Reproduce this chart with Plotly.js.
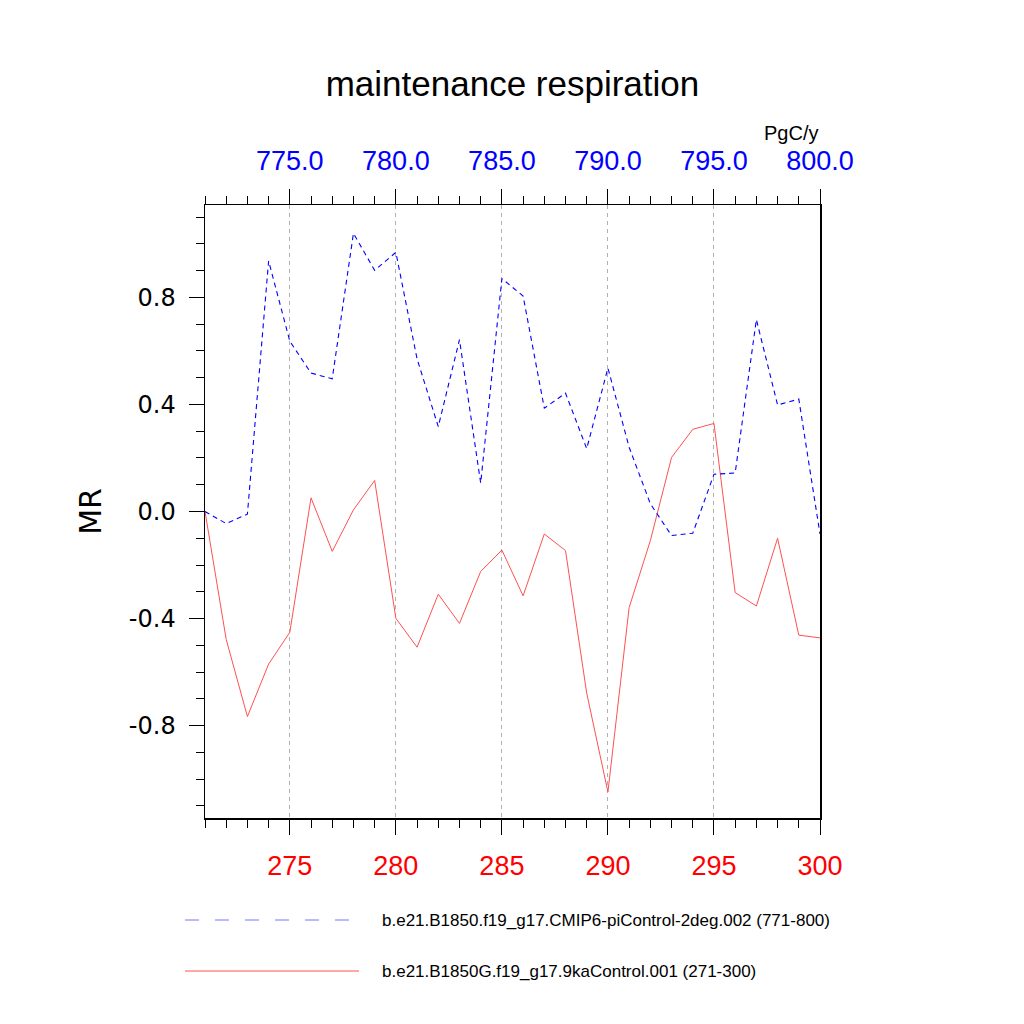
<!DOCTYPE html>
<html>
<head>
<meta charset="utf-8">
<script src="https://cdn.plot.ly/plotly-3.0.1.min.js"></script>
<style>html,body{margin:0;padding:0;background:#fff;}#chart{width:1024px;height:1024px;}</style>
</head>
<body>
<div id="chart"></div>
<script>
// ---- data ----
var yearsCtl = [271,272,273,274,275,276,277,278,279,280,281,282,283,284,285,286,287,288,289,290,291,292,293,294,295,296,297,298,299,300];
var yearsPi  = [771,772,773,774,775,776,777,778,779,780,781,782,783,784,785,786,787,788,789,790,791,792,793,794,795,796,797,798,799,800];
var mrPi  = [0.0, -0.045, -0.01, 0.936, 0.636, 0.517, 0.496, 1.039, 0.901, 0.968, 0.57, 0.317, 0.642, 0.106, 0.870, 0.805, 0.386, 0.442, 0.235, 0.536, 0.24, 0.029, -0.09, -0.081, 0.139, 0.144, 0.717, 0.398, 0.42, -0.084];
var mrCtl = [0.0, -0.478, -0.766, -0.57, -0.451, 0.051, -0.149, 0.006, 0.116, -0.399, -0.507, -0.309, -0.418, -0.224, -0.144, -0.315, -0.084, -0.146, -0.679, -1.048, -0.359, -0.109, 0.202, 0.307, 0.329, -0.303, -0.353, -0.1, -0.462, -0.472];
var namePi  = "b.e21.B1850.f19_g17.CMIP6-piControl-2deg.002 (771-800)";
var nameCtl = "b.e21.B1850G.f19_g17.9kaControl.001 (271-300)";
var yTickVals = [-0.8, -0.4, 0.0, 0.4, 0.8];
var yTickText = ["-0.8", "-0.4", "0.0", "0.4", "0.8"];
var titleText = "maintenance respiration";
var yTitle = "MR";
var unitsText = "PgC/y";

// ---- layout helpers (pixel -> paper) ----
var L = 205, R = 820, T = 205, B = 818;
function px(x){ return (x - L) / (R - L); }
function py(y){ return (B - y) / (B - T); }

var sans = "Liberation Sans, Arial, sans-serif";
var dv = "DejaVu Sans, sans-serif";

var traces = [
  { x: yearsPi, y: mrPi, xaxis: 'x2', yaxis: 'y', mode: 'lines', name: namePi,
    line: { color: '#0000ff', width: 1.1, dash: '5px,4px' }, hoverinfo: 'skip' },
  { x: yearsCtl, y: mrCtl, xaxis: 'x', yaxis: 'y', mode: 'lines', name: nameCtl,
    line: { color: '#ff5050', width: 1 }, hoverinfo: 'skip' }
];

var layout = {
  width: 1024, height: 1024,
  paper_bgcolor: '#fff', plot_bgcolor: '#fff',
  showlegend: false,
  margin: { l: L, r: 1024 - R, t: T, b: 1024 - B, pad: 0 },
  title: { text: titleText, font: { family: sans, size: 35, color: '#000' },
           x: 0.5, xref: 'paper', xanchor: 'center', y: 1 - 84/1024, yref: 'container', yanchor: 'middle' },
  xaxis: {
    range: [271, 300], tickmode: 'linear', tick0: 275, dtick: 5,
    ticks: 'outside', ticklen: 15, tickwidth: 1, tickcolor: '#000',
    tickfont: { family: sans, size: 27, color: '#ff0000' }, ticklabelstandoff: 8,
    showline: true, linecolor: '#000', linewidth: 1.5, zeroline: false,
    showgrid: true, gridcolor: '#b0b0b0', gridwidth: 1, griddash: '4px,4px',
    minor: { tickmode: 'linear', tick0: 271, dtick: 1, ticks: 'outside', ticklen: 8, tickcolor: '#000', tickwidth: 1, showgrid: false },
    automargin: false, fixedrange: true
  },
  xaxis2: {
    overlaying: 'x', side: 'top', anchor: 'y',
    range: [771, 800], tickmode: 'linear', tick0: 775, dtick: 5, tickformat: '.1f',
    ticks: 'outside', ticklen: 15, tickwidth: 1, tickcolor: '#000',
    tickfont: { family: sans, size: 27, color: '#0000ff' }, ticklabelstandoff: 8,
    showline: true, linecolor: '#000', linewidth: 1.5, zeroline: false, showgrid: false,
    minor: { tickmode: 'linear', tick0: 771, dtick: 1, ticks: 'outside', ticklen: 8, tickcolor: '#000', tickwidth: 1, showgrid: false },
    automargin: false, fixedrange: true
  },
  yaxis: {
    range: [-1.145, 1.145], tickmode: 'array', tickvals: yTickVals, ticktext: yTickText,
    ticks: 'outside', ticklen: 15, tickwidth: 1, tickcolor: '#000',
    tickfont: { family: dv, size: 24, color: '#000' }, ticklabelstandoff: 8,
    showline: true, mirror: true, linecolor: '#000', linewidth: 1.5, zeroline: false, showgrid: false,
    minor: { tickmode: 'linear', tick0: 0, dtick: 0.1, ticks: 'outside', ticklen: 8, tickcolor: '#000', tickwidth: 1, showgrid: false },
    title: { text: yTitle, font: { family: dv, size: 30, color: '#000' }, standoff: 18 },
    automargin: false, fixedrange: true
  },
  shapes: [
    { type: 'line', xref: 'paper', yref: 'paper', x0: px(185), x1: px(356), y0: py(920), y1: py(920),
      line: { color: '#7777ff', width: 1, dash: '14px,16px' } },
    { type: 'line', xref: 'paper', yref: 'paper', x0: px(185), x1: px(359), y0: py(971), y1: py(971),
      line: { color: '#ff5050', width: 1 } }
  ],
  annotations: [
    { text: namePi, xref: 'paper', yref: 'paper', x: px(380), y: py(920), xanchor: 'left', yanchor: 'middle',
      showarrow: false, font: { family: sans, size: 17, color: '#000' } },
    { text: nameCtl, xref: 'paper', yref: 'paper', x: px(380), y: py(971), xanchor: 'left', yanchor: 'middle',
      showarrow: false, font: { family: sans, size: 17, color: '#000' } },
    { text: unitsText, xref: 'paper', yref: 'paper', x: 1, y: py(133), xanchor: 'right', yanchor: 'middle',
      showarrow: false, font: { family: sans, size: 20, color: '#000' } }
  ]
};

Plotly.newPlot('chart', traces, layout, { staticPlot: true, displayModeBar: false });
</script>
</body>
</html>
